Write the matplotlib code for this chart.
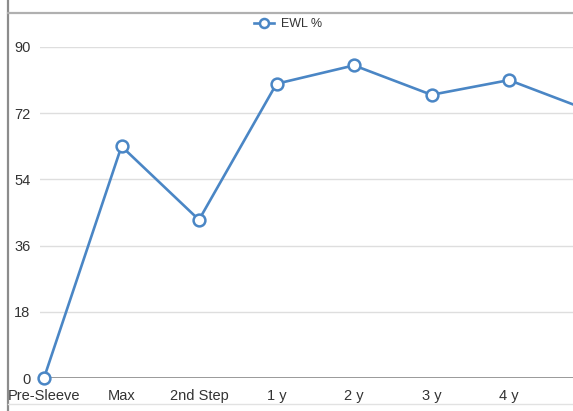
import matplotlib
matplotlib.use("Agg")
import matplotlib.pyplot as plt
from matplotlib.lines import Line2D

categories = ["Pre-Sleeve", "Max", "2nd Step", "1 y", "2 y", "3 y", "4 y", "5 y"]
ewl_pct = [0, 63, 43, 80, 85, 77, 81, 73]
y_ticks = [0, 18, 36, 54, 72, 90]
series_name = "EWL %"

plt.rcParams["font.family"] = ["Liberation Sans", "DejaVu Sans"]

W, H = 573, 411
fig = plt.figure(figsize=(W / 100, H / 100), dpi=100)

# plot area in pixel coordinates
left_px, right_px = 40, 573
bottom_px, top_px = 378, 47
ax = fig.add_axes([left_px / W, 1 - bottom_px / H,
                   (right_px - left_px) / W, (bottom_px - top_px) / H])

blue = "#4a86c5"
x = list(range(len(categories)))
ax.plot(x, ewl_pct, color=blue, lw=1.9, marker="o", markersize=8.5,
        markerfacecolor="white", markeredgecolor=blue, markeredgewidth=1.8,
        clip_on=False, zorder=5)

ax.set_yticks(y_ticks)
ax.set_yticklabels([str(v) for v in y_ticks])
ax.set_xticks(x)
ax.set_xticklabels(categories)
ax.tick_params(axis="both", length=0, labelsize=10.5, labelcolor="#333333")
ax.tick_params(axis="y", pad=7)
ax.tick_params(axis="x", pad=8)

step_px = 77.5
first_px = 44
ax.set_xlim((left_px - first_px) / step_px, (right_px - first_px) / step_px)
ax.set_ylim(0, 90)

for v in y_ticks[1:]:
    ax.axhline(v, color="#dedede", lw=1.0, zorder=1)
ax.axhline(0, color="#9a9a9a", lw=1.4, zorder=2)

for s in ax.spines.values():
    s.set_visible(False)

# frame lines of the chart panel
fig.add_artist(Line2D([8 / W, 8 / W], [0, 1], color="#8c8c8c", lw=1.6))
fig.add_artist(Line2D([8 / W, 1], [1 - 13 / H, 1 - 13 / H], color="#b0b0b0", lw=1.6))
fig.add_artist(Line2D([8 / W, 1], [1 - 404 / H, 1 - 404 / H], color="#e2e2e2", lw=1.0))

handle = Line2D([], [], color=blue, lw=1.9, marker="o", markersize=6.5,
                markerfacecolor="white", markeredgecolor=blue, markeredgewidth=1.8)
fig.legend([handle], [series_name], loc="center", bbox_to_anchor=(288 / W, 1 - 24 / H),
           frameon=False, fontsize=9, handlelength=1.6, handletextpad=0.6,
           labelcolor="#333333")

fig.savefig("out.png", dpi=100)
